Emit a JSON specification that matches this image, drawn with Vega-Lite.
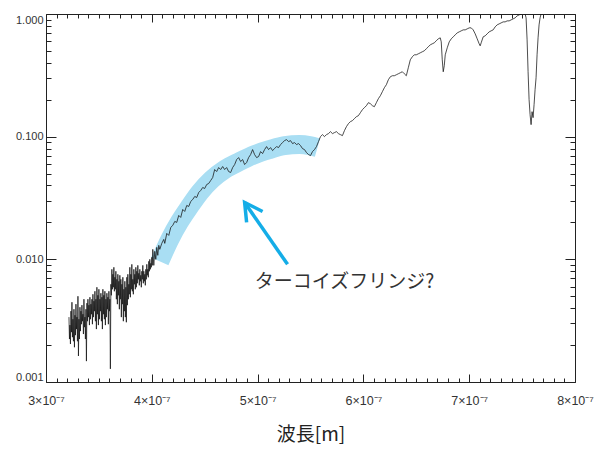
{
  "$schema": "https://vega.github.io/schema/vega-lite/v6.json",
  "autosize": {"type": "none"},
  "padding": {"left": 46, "top": 14, "right": 27, "bottom": 67},
  "width": 529,
  "height": 368,
  "background": "white",
  "config": {"view": {"stroke": "#222", "strokeWidth": 1}},
  "datasets": {
    "spectrum": [
      {"w":3.2170e-7,"v":0.00338},{"w":3.2217e-7,"v":0.00224},
      {"w":3.2264e-7,"v":0.00291},{"w":3.2311e-7,"v":0.00204},
      {"w":3.2358e-7,"v":0.00378},{"w":3.2406e-7,"v":0.00255},
      {"w":3.2453e-7,"v":0.00447},{"w":3.2500e-7,"v":0.00232},
      {"w":3.2547e-7,"v":0.00325},{"w":3.2594e-7,"v":0.00215},
      {"w":3.2642e-7,"v":0.00392},{"w":3.2689e-7,"v":0.00192},
      {"w":3.2736e-7,"v":0.00350},{"w":3.2783e-7,"v":0.00241},
      {"w":3.2830e-7,"v":0.00431},{"w":3.2877e-7,"v":0.00270},
      {"w":3.2925e-7,"v":0.00338},{"w":3.2972e-7,"v":0.00215},
      {"w":3.3019e-7,"v":0.00500},{"w":3.3066e-7,"v":0.00163},
      {"w":3.3113e-7,"v":0.00325},{"w":3.3160e-7,"v":0.00224},
      {"w":3.3208e-7,"v":0.00407},{"w":3.3255e-7,"v":0.00260},
      {"w":3.3302e-7,"v":0.00378},{"w":3.3349e-7,"v":0.00296},
      {"w":3.3396e-7,"v":0.00423},{"w":3.3443e-7,"v":0.00313},
      {"w":3.3491e-7,"v":0.00357},{"w":3.3538e-7,"v":0.00246},
      {"w":3.3585e-7,"v":0.00473},{"w":3.3632e-7,"v":0.00280},
      {"w":3.3679e-7,"v":0.00338},{"w":3.3726e-7,"v":0.00224},
      {"w":3.3774e-7,"v":0.00392},{"w":3.3821e-7,"v":0.00148},
      {"w":3.3868e-7,"v":0.00439},{"w":3.3915e-7,"v":0.00313},
      {"w":3.3962e-7,"v":0.00473},{"w":3.4009e-7,"v":0.00338},
      {"w":3.4057e-7,"v":0.00423},{"w":3.4104e-7,"v":0.00291},
      {"w":3.4151e-7,"v":0.00491},{"w":3.4198e-7,"v":0.00325},
      {"w":3.4245e-7,"v":0.00431},{"w":3.4292e-7,"v":0.00357},
      {"w":3.4340e-7,"v":0.00473},{"w":3.4387e-7,"v":0.00296},
      {"w":3.4434e-7,"v":0.00519},{"w":3.4481e-7,"v":0.00338},
      {"w":3.4528e-7,"v":0.00456},{"w":3.4575e-7,"v":0.00378},
      {"w":3.4623e-7,"v":0.00549},{"w":3.4670e-7,"v":0.00313},
      {"w":3.4717e-7,"v":0.00473},{"w":3.4764e-7,"v":0.00270},
      {"w":3.4811e-7,"v":0.00592},{"w":3.4858e-7,"v":0.00357},
      {"w":3.4906e-7,"v":0.00509},{"w":3.4953e-7,"v":0.00291},
      {"w":3.5000e-7,"v":0.00570},{"w":3.5047e-7,"v":0.00325},
      {"w":3.5094e-7,"v":0.00473},{"w":3.5141e-7,"v":0.00378},
      {"w":3.5189e-7,"v":0.00529},{"w":3.5236e-7,"v":0.00313},
      {"w":3.5283e-7,"v":0.00491},{"w":3.5330e-7,"v":0.00270},
      {"w":3.5377e-7,"v":0.00570},{"w":3.5424e-7,"v":0.00357},
      {"w":3.5472e-7,"v":0.00509},{"w":3.5519e-7,"v":0.00325},
      {"w":3.5566e-7,"v":0.00549},{"w":3.5613e-7,"v":0.00291},
      {"w":3.5660e-7,"v":0.00473},{"w":3.5707e-7,"v":0.00338},
      {"w":3.5755e-7,"v":0.00529},{"w":3.5802e-7,"v":0.00392},
      {"w":3.5849e-7,"v":0.00491},{"w":3.5896e-7,"v":0.00296},
      {"w":3.5943e-7,"v":0.00549},{"w":3.5990e-7,"v":0.00378},
      {"w":3.6038e-7,"v":0.00473},{"w":3.6085e-7,"v":0.00128},
      {"w":3.6132e-7,"v":0.00626},{"w":3.6179e-7,"v":0.00509},
      {"w":3.6226e-7,"v":0.00829},{"w":3.6273e-7,"v":0.00570},
      {"w":3.6321e-7,"v":0.00755},{"w":3.6368e-7,"v":0.00592},
      {"w":3.6415e-7,"v":0.00861},{"w":3.6462e-7,"v":0.00549},
      {"w":3.6509e-7,"v":0.00714},{"w":3.6556e-7,"v":0.00570},
      {"w":3.6604e-7,"v":0.00799},{"w":3.6651e-7,"v":0.00473},
      {"w":3.6698e-7,"v":0.00687},{"w":3.6745e-7,"v":0.00431},
      {"w":3.6792e-7,"v":0.00755},{"w":3.6839e-7,"v":0.00509},
      {"w":3.6887e-7,"v":0.00662},{"w":3.6934e-7,"v":0.00392},
      {"w":3.6981e-7,"v":0.00741},{"w":3.7028e-7,"v":0.00473},
      {"w":3.7075e-7,"v":0.00687},{"w":3.7122e-7,"v":0.00338},
      {"w":3.7170e-7,"v":0.00626},{"w":3.7217e-7,"v":0.00431},
      {"w":3.7264e-7,"v":0.00714},{"w":3.7311e-7,"v":0.00313},
      {"w":3.7358e-7,"v":0.00570},{"w":3.7405e-7,"v":0.00378},
      {"w":3.7453e-7,"v":0.00662},{"w":3.7500e-7,"v":0.00338},
      {"w":3.7547e-7,"v":0.00592},{"w":3.7594e-7,"v":0.00307},
      {"w":3.7642e-7,"v":0.00714},{"w":3.7689e-7,"v":0.00423},
      {"w":3.7736e-7,"v":0.00755},{"w":3.7783e-7,"v":0.00473},
      {"w":3.7830e-7,"v":0.00626},{"w":3.7877e-7,"v":0.00519},
      {"w":3.7925e-7,"v":0.00861},{"w":3.7972e-7,"v":0.00491},
      {"w":3.8019e-7,"v":0.00755},{"w":3.8066e-7,"v":0.00570},
      {"w":3.8113e-7,"v":0.00910},{"w":3.8160e-7,"v":0.00549},
      {"w":3.8208e-7,"v":0.00687},{"w":3.8255e-7,"v":0.00519},
      {"w":3.8302e-7,"v":0.00829},{"w":3.8349e-7,"v":0.00626},
      {"w":3.8396e-7,"v":0.00755},{"w":3.8443e-7,"v":0.00570},
      {"w":3.8491e-7,"v":0.00861},{"w":3.8538e-7,"v":0.00592},
      {"w":3.8585e-7,"v":0.00799},{"w":3.8632e-7,"v":0.00638},
      {"w":3.8679e-7,"v":0.00893},{"w":3.8726e-7,"v":0.00687},
      {"w":3.8774e-7,"v":0.00769},{"w":3.8821e-7,"v":0.00614},
      {"w":3.8868e-7,"v":0.00829},{"w":3.8915e-7,"v":0.00662},
      {"w":3.8962e-7,"v":0.00741},{"w":3.9009e-7,"v":0.00592},
      {"w":3.9057e-7,"v":0.00799},{"w":3.9104e-7,"v":0.00687},
      {"w":3.9151e-7,"v":0.00893},{"w":3.9198e-7,"v":0.00638},
      {"w":3.9245e-7,"v":0.00799},{"w":3.9292e-7,"v":0.00662},
      {"w":3.9340e-7,"v":0.00755},{"w":3.9387e-7,"v":0.00614},
      {"w":3.9434e-7,"v":0.00829},{"w":3.9481e-7,"v":0.00687},
      {"w":3.9528e-7,"v":0.00910},{"w":3.9575e-7,"v":0.00741},
      {"w":3.9623e-7,"v":0.00829},{"w":3.9670e-7,"v":0.00714},
      {"w":3.9717e-7,"v":0.00963},{"w":3.9764e-7,"v":0.00799},
      {"w":3.9811e-7,"v":0.01000},{"w":3.9858e-7,"v":0.00829},
      {"w":3.9906e-7,"v":0.00927},{"w":3.9953e-7,"v":0.00861},
      {"w":4.0000e-7,"v":0.01038},{"w":4.0047e-7,"v":0.00893},
      {"w":4.0094e-7,"v":0.01206},{"w":4.0189e-7,"v":0.00893},
      {"w":4.0283e-7,"v":0.01162},{"w":4.0377e-7,"v":0.01000},
      {"w":4.0472e-7,"v":0.01252},{"w":4.0566e-7,"v":0.01078},
      {"w":4.0660e-7,"v":0.01300},{"w":4.0755e-7,"v":0.01206},
      {"w":4.0943e-7,"v":0.01349},{"w":4.1132e-7,"v":0.01454},
      {"w":4.1226e-7,"v":0.01349},{"w":4.1415e-7,"v":0.01627},
      {"w":4.1604e-7,"v":0.01567},{"w":4.1792e-7,"v":0.01821},
      {"w":4.1981e-7,"v":0.01890},{"w":4.2170e-7,"v":0.02037},
      {"w":4.2358e-7,"v":0.02000},{"w":4.2547e-7,"v":0.02280},
      {"w":4.2736e-7,"v":0.02196},{"w":4.2925e-7,"v":0.02551},
      {"w":4.3113e-7,"v":0.02457},{"w":4.3302e-7,"v":0.02749},
      {"w":4.3491e-7,"v":0.02698},{"w":4.3679e-7,"v":0.02963},
      {"w":4.3868e-7,"v":0.03076},{"w":4.4057e-7,"v":0.03254},
      {"w":4.4245e-7,"v":0.03193},{"w":4.4434e-7,"v":0.03507},
      {"w":4.4623e-7,"v":0.03641},{"w":4.4811e-7,"v":0.03852},
      {"w":4.5000e-7,"v":0.03780},{"w":4.5189e-7,"v":0.04074},
      {"w":4.5377e-7,"v":0.04151},{"w":4.5566e-7,"v":0.04391},
      {"w":4.5755e-7,"v":0.04645},{"w":4.5943e-7,"v":0.05395},
      {"w":4.6132e-7,"v":0.05197},{"w":4.6321e-7,"v":0.05601},
      {"w":4.6509e-7,"v":0.05395},{"w":4.6698e-7,"v":0.05708},
      {"w":4.6887e-7,"v":0.05395},{"w":4.7075e-7,"v":0.05601},
      {"w":4.7264e-7,"v":0.05197},{"w":4.7453e-7,"v":0.05101},
      {"w":4.7642e-7,"v":0.05601},{"w":4.7830e-7,"v":0.05925},
      {"w":4.8019e-7,"v":0.06506},{"w":4.8208e-7,"v":0.06754},
      {"w":4.8396e-7,"v":0.06267},{"w":4.8585e-7,"v":0.06506},
      {"w":4.8774e-7,"v":0.05925},{"w":4.8962e-7,"v":0.06151},
      {"w":4.9151e-7,"v":0.06754},{"w":4.9340e-7,"v":0.07145},
      {"w":4.9528e-7,"v":0.07846},{"w":4.9717e-7,"v":0.07145},
      {"w":4.9906e-7,"v":0.06754},{"w":5.0094e-7,"v":0.06883},
      {"w":5.0283e-7,"v":0.07558},{"w":5.0472e-7,"v":0.07280},
      {"w":5.0660e-7,"v":0.07846},{"w":5.0849e-7,"v":0.08304},
      {"w":5.1038e-7,"v":0.07846},{"w":5.1226e-7,"v":0.08146},
      {"w":5.1415e-7,"v":0.07701},{"w":5.1604e-7,"v":0.07994},
      {"w":5.1792e-7,"v":0.08304},{"w":5.1981e-7,"v":0.08146},
      {"w":5.2170e-7,"v":0.08620},{"w":5.2358e-7,"v":0.08949},
      {"w":5.2547e-7,"v":0.09285},{"w":5.2736e-7,"v":0.09460},
      {"w":5.2925e-7,"v":0.09113},{"w":5.3113e-7,"v":0.09285},
      {"w":5.3302e-7,"v":0.08783},{"w":5.3491e-7,"v":0.08949},
      {"w":5.3679e-7,"v":0.08620},{"w":5.3868e-7,"v":0.08783},
      {"w":5.4057e-7,"v":0.08461},{"w":5.4245e-7,"v":0.07994},
      {"w":5.4434e-7,"v":0.07846},{"w":5.4623e-7,"v":0.07418},
      {"w":5.4811e-7,"v":0.07145},{"w":5.5000e-7,"v":0.07013},
      {"w":5.5189e-7,"v":0.07558},{"w":5.5377e-7,"v":0.07846},
      {"w":5.5566e-7,"v":0.08304},{"w":5.5755e-7,"v":0.09113},
      {"w":5.5943e-7,"v":0.1001},{"w":5.6132e-7,"v":0.1039},
      {"w":5.6321e-7,"v":0.1001},{"w":5.6509e-7,"v":0.1039},
      {"w":5.6698e-7,"v":0.1059},{"w":5.6887e-7,"v":0.1099},
      {"w":5.7075e-7,"v":0.1059},{"w":5.7264e-7,"v":0.1079},
      {"w":5.7453e-7,"v":0.1099},{"w":5.7642e-7,"v":0.1059},
      {"w":5.7830e-7,"v":0.1039},{"w":5.8019e-7,"v":0.1020},
      {"w":5.8208e-7,"v":0.1120},{"w":5.8396e-7,"v":0.1207},
      {"w":5.8585e-7,"v":0.1277},{"w":5.8774e-7,"v":0.1326},
      {"w":5.8962e-7,"v":0.1351},{"w":5.9151e-7,"v":0.1402},
      {"w":5.9340e-7,"v":0.1456},{"w":5.9528e-7,"v":0.1483},
      {"w":5.9717e-7,"v":0.1569},{"w":5.9906e-7,"v":0.1660},
      {"w":6.0094e-7,"v":0.1723},{"w":6.0283e-7,"v":0.1789},
      {"w":6.0472e-7,"v":0.1893},{"w":6.0660e-7,"v":0.1857},
      {"w":6.0849e-7,"v":0.1789},{"w":6.1038e-7,"v":0.1756},
      {"w":6.1226e-7,"v":0.1893},{"w":6.1415e-7,"v":0.2040},
      {"w":6.1604e-7,"v":0.2157},{"w":6.1792e-7,"v":0.2325},
      {"w":6.1981e-7,"v":0.2506},{"w":6.2170e-7,"v":0.2651},
      {"w":6.2358e-7,"v":0.2911},{"w":6.2547e-7,"v":0.3080},
      {"w":6.2736e-7,"v":0.3138},{"w":6.2925e-7,"v":0.3138},
      {"w":6.3113e-7,"v":0.3197},{"w":6.3302e-7,"v":0.3257},
      {"w":6.3491e-7,"v":0.3319},{"w":6.3679e-7,"v":0.3382},
      {"w":6.3868e-7,"v":0.3257},{"w":6.4057e-7,"v":0.3138},
      {"w":6.4245e-7,"v":0.3645},{"w":6.4434e-7,"v":0.4234},
      {"w":6.4623e-7,"v":0.4478},{"w":6.4811e-7,"v":0.4649},
      {"w":6.5000e-7,"v":0.4649},{"w":6.5189e-7,"v":0.4737},
      {"w":6.5377e-7,"v":0.4827},{"w":6.5566e-7,"v":0.4919},
      {"w":6.5755e-7,"v":0.5012},{"w":6.5943e-7,"v":0.5203},
      {"w":6.6132e-7,"v":0.5401},{"w":6.6321e-7,"v":0.5607},
      {"w":6.6509e-7,"v":0.5713},{"w":6.6698e-7,"v":0.5821},
      {"w":6.6887e-7,"v":0.6043},{"w":6.7075e-7,"v":0.6273},
      {"w":6.7264e-7,"v":0.6392},{"w":6.7358e-7,"v":0.5931},
      {"w":6.7453e-7,"v":0.4234},{"w":6.7547e-7,"v":0.3382},
      {"w":6.7642e-7,"v":0.3784},{"w":6.7736e-7,"v":0.4649},
      {"w":6.7925e-7,"v":0.5301},{"w":6.8113e-7,"v":0.5931},
      {"w":6.8302e-7,"v":0.6273},{"w":6.8491e-7,"v":0.6514},
      {"w":6.8679e-7,"v":0.6762},{"w":6.8868e-7,"v":0.7020},
      {"w":6.9057e-7,"v":0.7152},{"w":6.9245e-7,"v":0.7288},
      {"w":6.9434e-7,"v":0.7425},{"w":6.9623e-7,"v":0.7425},
      {"w":6.9811e-7,"v":0.7565},{"w":7.0000e-7,"v":0.7708},
      {"w":7.0189e-7,"v":0.7708},{"w":7.0377e-7,"v":0.7425},
      {"w":7.0566e-7,"v":0.6890},{"w":7.0755e-7,"v":0.6273},
      {"w":7.0943e-7,"v":0.5713},{"w":7.1038e-7,"v":0.5503},
      {"w":7.1132e-7,"v":0.5821},{"w":7.1321e-7,"v":0.6514},
      {"w":7.1509e-7,"v":0.6637},{"w":7.1698e-7,"v":0.6890},
      {"w":7.1887e-7,"v":0.7152},{"w":7.2075e-7,"v":0.7288},
      {"w":7.2264e-7,"v":0.7425},{"w":7.2453e-7,"v":0.7855},
      {"w":7.2642e-7,"v":0.8154},{"w":7.2830e-7,"v":0.8308},
      {"w":7.3019e-7,"v":0.8465},{"w":7.3208e-7,"v":0.8625},
      {"w":7.3396e-7,"v":0.8625},{"w":7.3585e-7,"v":0.8788},
      {"w":7.3774e-7,"v":0.8788},{"w":7.3962e-7,"v":0.8954},
      {"w":7.4151e-7,"v":0.9123},{"w":7.4340e-7,"v":0.9296},
      {"w":7.4528e-7,"v":0.9648},{"w":7.4717e-7,"v":0.9830},
      {"w":7.4906e-7,"v":1.0016},{"w":7.5094e-7,"v":1.0205},
      {"w":7.5283e-7,"v":1.0016},{"w":7.5377e-7,"v":0.9296},
      {"w":7.5472e-7,"v":0.6157},{"w":7.5566e-7,"v":0.3382},
      {"w":7.5660e-7,"v":0.2002},{"w":7.5755e-7,"v":0.1511},
      {"w":7.5849e-7,"v":0.1253},{"w":7.5943e-7,"v":0.1599},
      {"w":7.6038e-7,"v":0.1429},{"w":7.6132e-7,"v":0.1823},
      {"w":7.6226e-7,"v":0.2414},{"w":7.6321e-7,"v":0.3022},
      {"w":7.6415e-7,"v":0.4649},{"w":7.6509e-7,"v":0.6392},
      {"w":7.6604e-7,"v":0.8154},{"w":7.6698e-7,"v":0.9296},
      {"w":7.6792e-7,"v":1.0016},{"w":7.6887e-7,"v":1.0205},
      {"w":7.7075e-7,"v":1.040},{"w":7.7358e-7,"v":1.040},
      {"w":7.7642e-7,"v":1.0205},{"w":7.7830e-7,"v":1.060},
      {"w":7.8019e-7,"v":1.040}
    ],
    "band": [
      {"w":4.0755e-7,"v":0.00963},{"w":4.1698e-7,"v":0.01454},
      {"w":4.2642e-7,"v":0.02037},{"w":4.3585e-7,"v":0.02698},
      {"w":4.4528e-7,"v":0.03507},{"w":4.5660e-7,"v":0.04474},
      {"w":4.6887e-7,"v":0.05395},{"w":4.8302e-7,"v":0.06267},
      {"w":4.9717e-7,"v":0.07145},{"w":5.1132e-7,"v":0.07846},
      {"w":5.2547e-7,"v":0.08461},{"w":5.3962e-7,"v":0.08620},
      {"w":5.4906e-7,"v":0.08461},{"w":5.5660e-7,"v":0.08146}
    ],
    "arrow": [
      {"part":"shaft","ord":1,"w":5.2830e-7,"v":0.0091},
      {"part":"shaft","ord":2,"w":4.8774e-7,"v":0.02908},
      {"part":"head","ord":1,"w":5.0472e-7,"v":0.02457},
      {"part":"head","ord":2,"w":4.8774e-7,"v":0.02908},
      {"part":"head","ord":3,"w":4.8962e-7,"v":0.0200}
    ],
    "note": [
      {"w":5.8208e-7,"v":0.0065,"label":"ターコイズフリンジ?"}
    ]
  },
  "layer": [
    {
      "data": {"name": "band"},
      "mark": {"type": "line", "stroke": "#a9def3", "strokeWidth": 19, "strokeCap": "butt", "interpolate": "monotone", "clip": true},
      "encoding": {
        "x": {
          "field": "w", "type": "quantitative",
          "scale": {"domain": [3e-7, 8e-7], "nice": false, "zero": false},
          "axis": {
            "orient": "bottom",
            "values": [3e-7,3.1e-7,3.2e-7,3.3e-7,3.4e-7,3.5e-7,3.6e-7,3.7e-7,3.8e-7,3.9e-7,4e-7,4.1e-7,4.2e-7,4.3e-7,4.4e-7,4.5e-7,4.6e-7,4.7e-7,4.8e-7,4.9e-7,5e-7,5.1e-7,5.2e-7,5.3e-7,5.4e-7,5.5e-7,5.6e-7,5.7e-7,5.8e-7,5.9e-7,6e-7,6.1e-7,6.2e-7,6.3e-7,6.4e-7,6.5e-7,6.6e-7,6.7e-7,6.8e-7,6.9e-7,7e-7,7.1e-7,7.2e-7,7.3e-7,7.4e-7,7.5e-7,7.6e-7,7.7e-7,7.8e-7,7.9e-7,8e-7],
            "labelExpr": "abs(datum.value*1e7 - round(datum.value*1e7)) < 0.01 ? round(datum.value*1e7) + '×10⁻⁷' : ''",
            "tickSize": {"condition": {"test": "abs(datum.value*1e7 - round(datum.value*1e7)) < 0.01", "value": -8}, "value": -4},
            "tickColor": "#222", "tickWidth": 1,
            "domain": false, "grid": false,
            "labelFont": "Liberation Sans", "labelFontSize": 12.5, "labelColor": "#333",
            "labelPadding": 20, "labelOverlap": false, "labelFlush": false,
            "title": "波長[m]", "titleFont": "Noto Sans CJK JP", "titleFontSize": 19,
            "titleFontWeight": "normal", "titleColor": "#222", "titlePadding": 15
          }
        },
        "y": {
          "field": "v", "type": "quantitative",
          "scale": {"type": "log", "domain": [0.001, 1], "nice": false},
          "axis": {
            "orient": "left",
            "values": [0.001,0.002,0.003,0.004,0.005,0.006,0.007,0.008,0.009,0.01,0.02,0.03,0.04,0.05,0.06,0.07,0.08,0.09,0.1,0.2,0.3,0.4,0.5,0.6,0.7,0.8,0.9,1],
            "labelExpr": "abs(log(datum.value)/LN10 - round(log(datum.value)/LN10)) < 1e-6 ? format(datum.value, '.3f') : ''",
            "tickSize": {"condition": {"test": "abs(log(datum.value)/LN10 - round(log(datum.value)/LN10)) < 1e-6", "value": -10}, "value": -5},
            "tickColor": "#222", "tickWidth": 1,
            "domain": false, "grid": false,
            "labelFont": "Liberation Sans", "labelFontSize": 11, "labelColor": "#333",
            "labelPadding": 13, "labelOverlap": false, "labelFlush": true,
            "title": null
          }
        }
      }
    },
    {
      "data": {"name": "spectrum"},
      "mark": {"type": "line", "stroke": "#111", "strokeWidth": 0.75, "clip": true},
      "encoding": {
        "x": {
          "field": "w", "type": "quantitative",
          "scale": {"domain": [3e-7, 8e-7], "nice": false, "zero": false},
          "axis": {
            "orient": "top",
            "values": [3e-7,3.1e-7,3.2e-7,3.3e-7,3.4e-7,3.5e-7,3.6e-7,3.7e-7,3.8e-7,3.9e-7,4e-7,4.1e-7,4.2e-7,4.3e-7,4.4e-7,4.5e-7,4.6e-7,4.7e-7,4.8e-7,4.9e-7,5e-7,5.1e-7,5.2e-7,5.3e-7,5.4e-7,5.5e-7,5.6e-7,5.7e-7,5.8e-7,5.9e-7,6e-7,6.1e-7,6.2e-7,6.3e-7,6.4e-7,6.5e-7,6.6e-7,6.7e-7,6.8e-7,6.9e-7,7e-7,7.1e-7,7.2e-7,7.3e-7,7.4e-7,7.5e-7,7.6e-7,7.7e-7,7.8e-7,7.9e-7,8e-7],
            "labels": false,
            "tickSize": {"condition": {"test": "abs(datum.value*1e7 - round(datum.value*1e7)) < 0.01", "value": -8}, "value": -4},
            "tickColor": "#222", "tickWidth": 1,
            "domain": false, "grid": false, "title": null
          }
        },
        "y": {
          "field": "v", "type": "quantitative",
          "scale": {"type": "log", "domain": [0.001, 1], "nice": false},
          "axis": {
            "orient": "right",
            "values": [0.001,0.002,0.003,0.004,0.005,0.006,0.007,0.008,0.009,0.01,0.02,0.03,0.04,0.05,0.06,0.07,0.08,0.09,0.1,0.2,0.3,0.4,0.5,0.6,0.7,0.8,0.9,1],
            "labels": false,
            "tickSize": {"condition": {"test": "abs(log(datum.value)/LN10 - round(log(datum.value)/LN10)) < 1e-6", "value": -10}, "value": -5},
            "tickColor": "#222", "tickWidth": 1,
            "domain": false, "grid": false, "title": null
          }
        }
      }
    },
    {
      "data": {"name": "arrow"},
      "mark": {"type": "line", "stroke": "#14ade7", "strokeWidth": 3.5, "strokeCap": "butt", "strokeJoin": "miter"},
      "encoding": {
        "x": {"field": "w", "type": "quantitative", "axis": null},
        "y": {"field": "v", "type": "quantitative", "axis": null},
        "detail": {"field": "part"},
        "order": {"field": "ord", "type": "quantitative"}
      }
    },
    {
      "data": {"name": "note"},
      "mark": {"type": "text", "font": "Noto Sans CJK JP", "fontSize": 19, "fontWeight": "normal", "color": "#333", "align": "center", "baseline": "middle"},
      "encoding": {
        "x": {"field": "w", "type": "quantitative", "axis": null},
        "y": {"field": "v", "type": "quantitative", "axis": null},
        "text": {"field": "label"}
      }
    }
  ],
  "resolve": {"axis": {"x": "independent", "y": "independent"}}
}
